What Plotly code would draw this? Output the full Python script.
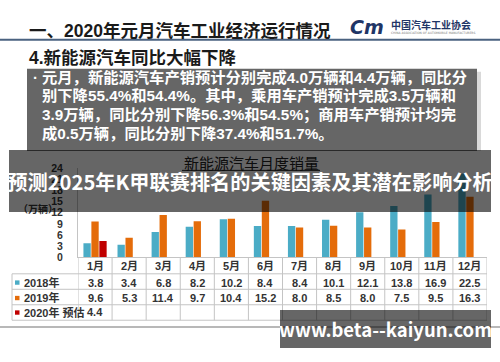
import plotly.graph_objects as go

# ---------------- data ----------------
months = ["1月", "2月", "3月", "4月", "5月", "6月", "7月", "8月", "9月", "10月", "11月", "12月"]
series_names = ["2018年", "2019年", "2020年 预估"]
sales_2018 = [3.8, 3.4, 6.8, 8.2, 10.2, 8.4, 8.4, 10.1, 12.1, 13.8, 16.9, 22.5]
sales_2019 = [9.6, 5.3, 11.4, 9.7, 10.4, 15.2, 8.0, 8.5, 8.0, 7.5, 9.5, 16.3]
sales_2020 = [4.4, None, None, None, None, None, None, None, None, None, None, None]
y_ticks = [0, 3, 6, 9, 12, 15, 18, 21, 24]

page_title = "一、2020年元月汽车工业经济运行情况"
section_title = "4.新能源汽车同比大幅下降"
body_lines = [
    "元月，新能源汽车产销预计分别完成4.0万辆和4.4万辆，同比分",
    "别下降55.4%和54.4%。其中，乘用车产销预计完成3.5万辆和",
    "3.9万辆，同比分别下降56.3%和54.5%；商用车产销预计均完",
    "成0.5万辆，同比分别下降37.4%和51.7%。",
]
chart_title = "新能源汽车月度销量"
unit_label = "（万辆）"
banner_text = "预测2025年K甲联赛排名的关键因素及其潜在影响分析"
watermark_text = "www.beta--kaiyun.com"
org_name = "中国汽车工业协会"
org_en = "CHINA ASSOCIATION OF AUTOMOBILE MANUFACTURERS"

# ---------------- style ----------------
W, H = 500, 362
colors = ["#4bacc6", "#e46c0a", "#c00000"]
MIX = "Liberation Sans, Noto Sans CJK SC, sans-serif"
CJK = "Noto Sans CJK SC, sans-serif"


def px(x):
    return x / W


def py(y):
    return (H - y) / H


fig = go.Figure()
for name, vals, c in zip(series_names, [sales_2018, sales_2019, sales_2020], colors):
    fig.add_trace(go.Bar(x=months, y=vals, name=name, marker=dict(color=c, line=dict(width=0))))

shapes = []
ann = []

# header line
shapes.append(dict(type="line", xref="paper", yref="paper", x0=0, x1=1, y0=py(35), y1=py(35),
                   line=dict(color="#4a6280", width=2)))
# text box shadow + box
shapes.append(dict(type="rect", xref="paper", yref="paper", x0=px(30), x1=px(481), y0=py(150), y1=py(68),
                   fillcolor="#d9d9d9", line=dict(width=0), layer="below"))
shapes.append(dict(type="rect", xref="paper", yref="paper", x0=px(27), x1=px(477), y0=py(150), y1=py(65),
                   fillcolor="#666666", line=dict(width=0), layer="below"))
# chart title underline
shapes.append(dict(type="line", xref="paper", yref="paper", x0=px(182), x1=px(320), y0=py(170), y1=py(170),
                   line=dict(color="#222", width=1)))

# table grid
gc = "#c4c4c4"
row_lines = [277, 293, 309, 325]
for yl in row_lines:
    shapes.append(dict(type="line", xref="paper", yref="paper", x0=px(12), x1=px(487), y0=py(yl), y1=py(yl),
                       line=dict(color=gc, width=1)))
for i in range(len(months) + 1):
    shapes.append(dict(type="line", xref="x", yref="paper", x0=i - 0.5, x1=i - 0.5, y0=py(260), y1=py(325),
                       line=dict(color=gc, width=1)))
shapes.append(dict(type="line", xref="paper", yref="paper", x0=px(12), x1=px(12), y0=py(277), y1=py(325),
                   line=dict(color=gc, width=1)))
# bottom rule
shapes.append(dict(type="line", xref="paper", yref="paper", x0=0, x1=1, y0=py(332), y1=py(332),
                   line=dict(color="#a0a0a0", width=1.5)))

# legend squares in table
row_centers = [286, 302, 317]
for yc, c in zip(row_centers, colors):
    shapes.append(dict(type="rect", xref="paper", yref="paper", x0=px(15), x1=px(19.5), y0=py(yc + 2.3),
                       y1=py(yc - 2.2), fillcolor=c, line=dict(width=0)))

# ---------------- annotations ----------------
def text(x, y, t, size, color="#222", xanchor="left", family=MIX, xref="paper", **kw):
    ann.append(dict(x=x if xref != "paper" else px(x), y=py(y), xref=xref, yref="paper", text=t, showarrow=False,
                    xanchor=xanchor, yanchor="middle", font=dict(size=size, color=color, family=family), **kw))


text(27, 26, "<b>" + page_title + "</b>", 17.5, "#1a1a1a")
text(27, 54, "<b>" + section_title + "</b>", 17.5, "#1a1a1a")
# logo
text(367, 22, "<b><i>Cm</i></b>", 19, "#1f3566", xanchor="center", family="DejaVu Sans, sans-serif")
text(389, 19, "<b>" + org_name + "</b>", 10, "#1f3566", family=CJK)
text(389, 28, org_en, 3, "#777", family="DejaVu Sans")

# body text
text(31, 74, "<b>·</b>", 15, "#ffffff")
for yl, line in zip([74, 93, 112.5, 131.5], body_lines):
    text(40, yl, "<b>" + line + "</b>", 15.3, "#ffffff")

# chart title / unit
text(251, 162, chart_title, 15, "#222", xanchor="center", family=CJK)
text(38, 209, "<b>" + unit_label + "</b>", 10, "#333", xanchor="center", family=CJK)

# table text
for i, m in enumerate(months):
    text(i, 269, "<b>" + m + "</b>", 11, "#333", xanchor="center", xref="x")
for vals, yc, nm in zip([sales_2018, sales_2019, sales_2020], row_centers, series_names):
    text(22, yc, "<b>" + nm + "</b>", 11, "#333")
    for i, v in enumerate(vals):
        if v is not None:
            text(i, yc, "<b>%.1f</b>" % v, 11, "#333", xanchor="center", xref="x")

# overlay banner (annotation with translucent background)
ann.append(dict(x=px(250), y=py(181), xref="paper", yref="paper", showarrow=False, xanchor="center",
                yanchor="middle", width=482, height=62, bgcolor="rgba(0,0,0,0.6)", borderpad=0, borderwidth=0,
                text="<b>" + banner_text + "</b>", font=dict(size=20.2, color="#ffffff", family=CJK)))
# watermark box
ann.append(dict(x=px(385.5), y=py(334), xref="paper", yref="paper", showarrow=False, xanchor="center",
                yanchor="middle", width=211, height=38, bgcolor="rgba(0,0,0,0.6)", borderpad=0, borderwidth=0,
                text="<b>" + watermark_text + "</b>", font=dict(size=18.5, color="#ffffff", family=CJK)))

fig.update_layout(
    width=W, height=H, autosize=False,
    margin=dict(l=0, r=0, t=0, b=0),
    paper_bgcolor="#ffffff", plot_bgcolor="#ffffff",
    barmode="group", bargap=0.3, bargroupgap=0.08,
    showlegend=False,
    shapes=shapes, annotations=ann,
    xaxis=dict(domain=[px(78), px(487)], range=[-0.5, len(months) - 0.5], showticklabels=False,
               showline=True, linecolor=gc, linewidth=1, showgrid=False, zeroline=False, fixedrange=True),
    yaxis=dict(domain=[py(260), py(167.5)], range=[0, 24], tickvals=y_ticks, showgrid=False, zeroline=False,
               showline=True, linecolor=gc, linewidth=1, ticks="outside", ticklen=12,
               tickcolor="rgba(0,0,0,0)",
               tickfont=dict(size=10.5, color="#333", family=MIX, weight="bold")),
)

fig.write_html("out.html", config={"displayModeBar": False},
               post_script="document.body.style.margin='0';document.body.style.overflow='hidden';")
